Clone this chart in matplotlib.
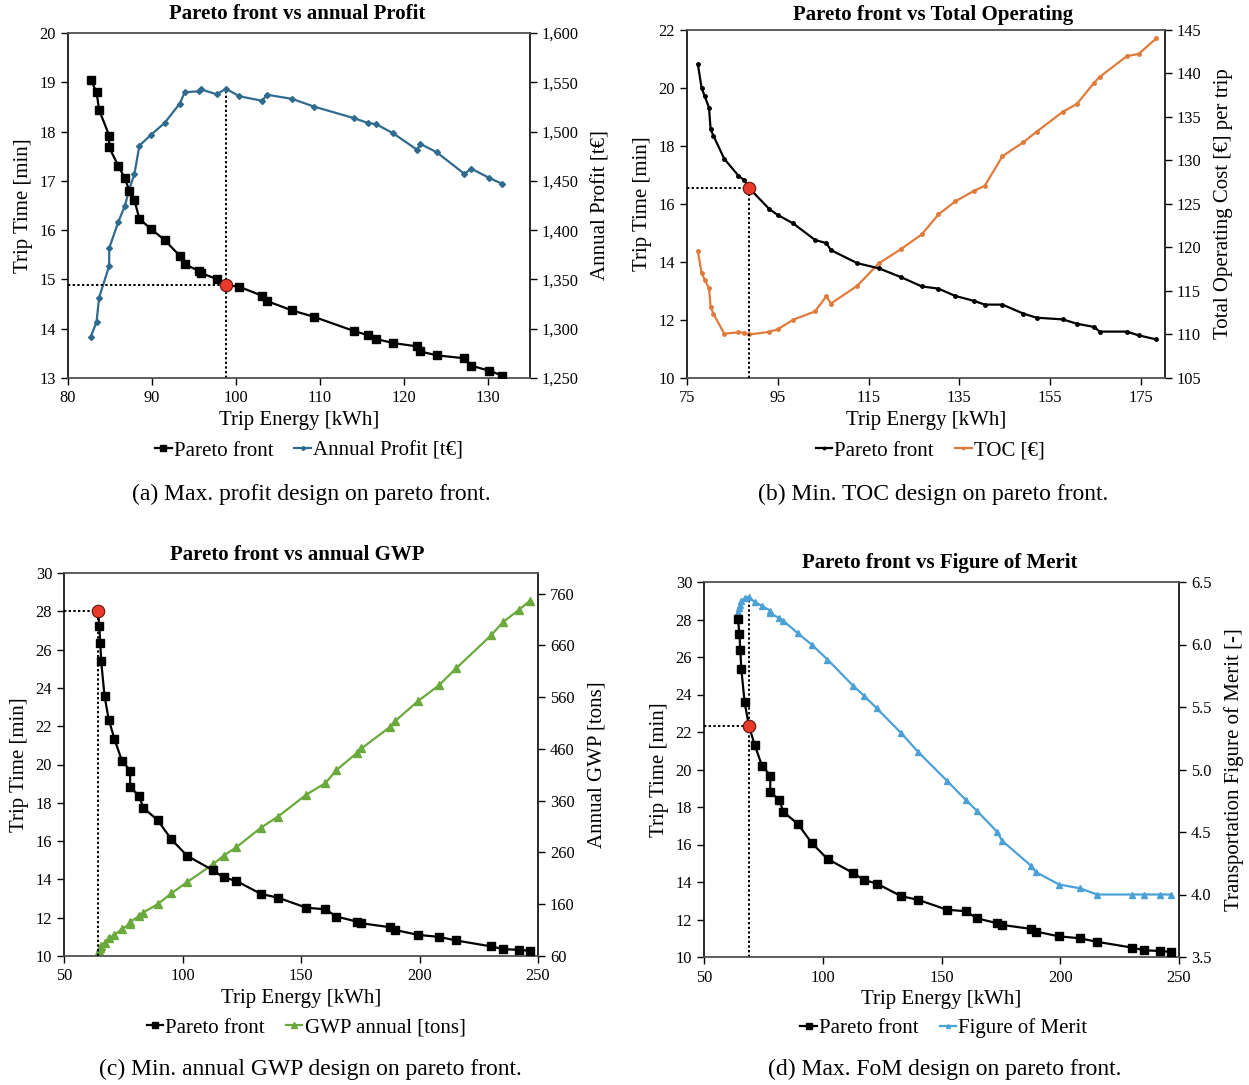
import matplotlib
matplotlib.use("Agg")
import matplotlib.pyplot as plt
from matplotlib.ticker import FuncFormatter, MultipleLocator

plt.rcParams['font.family'] = ['Liberation Serif', 'DejaVu Serif']
plt.rcParams['mathtext.fontset'] = 'stix'

# ---------------- (a) Pareto front vs annual profit ----------------
energy_a = [82.7, 83.4, 83.7, 84.9, 84.9, 86.0, 86.75, 87.3, 87.9, 88.5, 89.9, 91.5,
            93.3, 93.9, 95.6, 95.8, 97.7, 98.8, 100.4, 103.1, 103.7, 106.7, 109.3,
            114.1, 115.7, 116.7, 118.7, 121.6, 121.9, 123.9, 127.2, 128.0, 130.1, 131.7]
time_a = [19.05, 18.80, 18.44, 17.92, 17.68, 17.30, 17.06, 16.80, 16.61, 16.23, 16.02,
          15.80, 15.48, 15.31, 15.17, 15.13, 15.01, 14.89, 14.85, 14.67, 14.56, 14.37,
          14.24, 13.95, 13.87, 13.79, 13.71, 13.64, 13.54, 13.46, 13.40, 13.25, 13.15, 13.05]
profit_a = [1291.4, 1306.9, 1331.5, 1363.7, 1381.6, 1408.6, 1424.2, 1441.5, 1456.7,
            1485.7, 1496.9, 1508.7, 1528.3, 1539.9, 1540.9, 1542.9, 1537.8, 1543.5,
            1535.8, 1531.3, 1537.4, 1533.1, 1525.3, 1513.5, 1508.7, 1507.4, 1498.3,
            1481.3, 1487.7, 1479.0, 1457.0, 1462.4, 1453.2, 1446.9]

# ---------------- (b) Pareto front vs total operating cost ----------------
energy_b = [77.4, 78.2, 78.9, 79.85, 80.2, 80.8, 83.2, 86.3, 87.6, 88.7, 93.1, 95.0,
            98.4, 103.2, 105.7, 106.7, 112.5, 117.3, 122.1, 126.7, 130.4, 134.1, 138.2,
            140.6, 144.5, 149.1, 152.0, 157.8, 160.9, 164.7, 165.9, 171.9, 174.5, 178.4]
time_b = [20.82, 20.01, 19.72, 19.32, 18.58, 18.36, 17.56, 16.98, 16.82, 16.55, 15.83,
          15.62, 15.33, 14.76, 14.65, 14.41, 13.96, 13.78, 13.48, 13.16, 13.08, 12.83,
          12.66, 12.53, 12.53, 12.22, 12.08, 12.02, 11.87, 11.76, 11.60, 11.60, 11.47, 11.33]
toc_b = [119.55, 117.1, 116.3, 115.3, 113.2, 112.4, 110.1, 110.25, 110.2, 110.0, 110.3,
         110.6, 111.7, 112.65, 114.4, 113.55, 115.6, 118.2, 119.8, 121.5, 123.8, 125.3,
         126.5, 127.1, 130.5, 132.1, 133.3, 135.6, 136.5, 138.95, 139.6, 142.0, 142.25, 144.05]

# ---------------- (c)/(d) Pareto front vs GWP and figure of merit ----------------
energy_cd = [64.3, 64.9, 65.3, 65.7, 67.1, 68.9, 71.3, 74.4, 77.9, 77.9, 81.7, 83.4,
             89.5, 95.3, 102.0, 112.8, 117.4, 122.7, 133.1, 140.2, 152.3, 160.3, 164.9,
             173.5, 175.5, 187.7, 189.7, 199.5, 208.2, 215.5, 230.3, 235.2, 242.0, 246.5]
time_cd = [28.04, 27.24, 26.35, 25.38, 23.58, 22.33, 21.33, 20.20, 19.68, 18.81, 18.37,
           17.74, 17.10, 16.09, 15.23, 14.48, 14.10, 13.92, 13.24, 13.05, 12.52, 12.44,
           12.06, 11.80, 11.71, 11.50, 11.36, 11.10, 11.00, 10.81, 10.50, 10.36, 10.32, 10.27]
gwp_c = [64, 70, 75, 80, 86, 94, 101, 112, 122, 126, 137, 144, 160, 181, 203, 237, 254,
         270, 308, 329, 372, 394, 419, 452, 461, 503, 514, 553, 583, 616, 680, 705, 729, 746]
fom_d = [6.26, 6.29, 6.32, 6.35, 6.37, 6.38, 6.34, 6.31, 6.27, 6.25, 6.21, 6.19, 6.09,
         6.00, 5.88, 5.67, 5.59, 5.49, 5.29, 5.14, 4.91, 4.755, 4.67, 4.50, 4.43, 4.23,
         4.18, 4.08, 4.05, 4.00, 4.00, 4.00, 4.00, 4.00]

BLACK = '#000000'
SPINE_GRAY = '#595959'
C_PROFIT = '#2F6A8F'
C_TOC = '#E07B3C'
C_GWP = '#6AAA3D'
C_FOM = '#4BA0D6'
C_RED = '#E8392A'

TICK_FS = 11.8
LABEL_FS = 15
TITLE_FS = 15
LEG_FS = 15
CAP_FS = 17

W, H = 1249, 1085
fig = plt.figure(figsize=(W / 100, H / 100), dpi=100)


def px_axes(l, t, r, b):
    return fig.add_axes([l / W, 1 - b / H, (r - l) / W, (b - t) / H])


def style(ax, ax2):
    for a in (ax, ax2):
        a.tick_params(direction='out', length=5, width=1, labelsize=TICK_FS, colors=BLACK)
        for s in a.spines.values():
            s.set_linewidth(1.1)
        a.spines['top'].set_color(SPINE_GRAY)
        a.spines['bottom'].set_color(SPINE_GRAY)
        a.spines['left'].set_color('#222222')
        a.spines['right'].set_color('#222222')
    ax.tick_params(axis='x', pad=4)
    ax.set_xlabel('Trip Energy [kWh]', fontsize=LABEL_FS, labelpad=3)
    ax.set_ylabel('Trip Time [min]', fontsize=LABEL_FS, labelpad=5)


def marker_dot(ax, x, y):
    ax.plot([x], [y], 'o', ms=9, mfc=C_RED, mec='#5a1a10', mew=0.8, zorder=10)


def legend(ax, handles, labels, cx, cy):
    fig.legend(handles, labels, loc='center', bbox_to_anchor=(cx / W, 1 - cy / H),
               ncol=2, frameon=False, fontsize=LEG_FS, handlelength=0.8,
               handletextpad=0.1, columnspacing=1.0, borderaxespad=0, markerscale=0.7)


def caption(text, cx, cy):
    fig.text(cx / W, 1 - cy / H, text, ha='center', va='center', fontsize=CAP_FS)


def title(text, cx, cy):
    fig.text(cx / W, 1 - cy / H, text, ha='center', va='center',
             fontsize=TITLE_FS, fontweight='bold')


dot_style = dict(color=BLACK, linestyle=(0, (1.2, 1.2)), linewidth=1.4, zorder=3)

# ---------------- panel (a) ----------------
ax = px_axes(68, 33, 530, 378)
ax2 = ax.twinx()
la, = ax.plot(energy_a, time_a, '-s', color=BLACK, lw=1.6, ms=5.5, zorder=5)
lb, = ax2.plot(energy_a, profit_a, '-D', color=C_PROFIT, lw=1.6, ms=3, zorder=4)
ax.set_xlim(80, 135)
ax.set_ylim(13, 20)
ax2.set_ylim(1250, 1600)
ax.yaxis.set_major_locator(MultipleLocator(1))
ax2.yaxis.set_major_locator(MultipleLocator(50))
ax2.yaxis.set_major_formatter(FuncFormatter(lambda v, p: f'{v:,.0f}'))
ax.set_xticks([80, 90, 100, 110, 120, 130])
ax2.set_ylabel('Annual Profit [t€]', fontsize=LABEL_FS, labelpad=9)
style(ax, ax2)
ia = profit_a.index(max(profit_a))
ax.hlines(time_a[ia], 80, energy_a[ia], **dot_style)
ax2.vlines(energy_a[ia], 1250, profit_a[ia], **dot_style)
marker_dot(ax, energy_a[ia], time_a[ia])
ax.set_zorder(ax2.get_zorder() + 1)
ax.patch.set_visible(False)
title('Pareto front vs annual Profit', 297, 14)
legend(ax, [la, lb], ['Pareto front', 'Annual Profit [t€]'], 309, 451)
caption('(a) Max. profit design on pareto front.', 311, 494)

# ---------------- panel (b) ----------------
ax = px_axes(687, 30, 1165, 378)
ax2 = ax.twinx()
la, = ax.plot(energy_b, time_b, '-o', color=BLACK, lw=1.6, ms=2.5, zorder=5)
lb, = ax2.plot(energy_b, toc_b, '-o', color=C_TOC, lw=1.6, ms=2.5, zorder=4)
ax.set_xlim(75, 180.3)
ax.set_ylim(10, 22)
ax2.set_ylim(105, 145)
ax.set_xticks([75, 95, 115, 135, 155, 175])
ax.yaxis.set_major_locator(MultipleLocator(2))
ax2.yaxis.set_major_locator(MultipleLocator(5))
ax2.set_ylabel('Total Operating Cost [€] per trip', fontsize=LABEL_FS, labelpad=9)
style(ax, ax2)
ib = toc_b.index(min(toc_b))
ax.hlines(time_b[ib], 75, energy_b[ib], **dot_style)
ax.vlines(energy_b[ib], 10, time_b[ib], **dot_style)
marker_dot(ax, energy_b[ib], time_b[ib])
ax.set_zorder(ax2.get_zorder() + 1)
ax.patch.set_visible(False)
title('Pareto front vs Total Operating', 933, 15)
legend(ax, [la, lb], ['Pareto front', 'TOC [€]'], 930, 451)
caption('(b) Min. TOC design on pareto front.', 933, 494)

# ---------------- panel (c) ----------------
ax = px_axes(64, 573, 538, 956)
ax2 = ax.twinx()
la, = ax.plot(energy_cd, time_cd, '-s', color=BLACK, lw=1.6, ms=5.5, zorder=5)
lb, = ax2.plot(energy_cd, gwp_c, '-^', color=C_GWP, lw=1.6, ms=5.5, zorder=4)
ax.set_xlim(50, 250)
ax.set_ylim(10, 30)
ax2.set_ylim(60, 800)
ax.xaxis.set_major_locator(MultipleLocator(50))
ax.yaxis.set_major_locator(MultipleLocator(2))
ax2.set_yticks([60, 160, 260, 360, 460, 560, 660, 760])
ax2.set_ylabel('Annual GWP [tons]', fontsize=LABEL_FS, labelpad=9)
style(ax, ax2)
ic = gwp_c.index(min(gwp_c))
ax.hlines(time_cd[ic], 50, energy_cd[ic], **dot_style)
ax.vlines(energy_cd[ic], 10, time_cd[ic], **dot_style)
marker_dot(ax, energy_cd[ic], time_cd[ic])
ax.set_zorder(ax2.get_zorder() + 1)
ax.patch.set_visible(False)
title('Pareto front vs annual GWP', 297, 555)
legend(ax, [la, lb], ['Pareto front', 'GWP annual [tons]'], 306, 1028)
caption('(c) Min. annual GWP design on pareto front.', 310, 1069)

# ---------------- panel (d) ----------------
ax = px_axes(704, 582, 1179, 957)
ax2 = ax.twinx()
la, = ax.plot(energy_cd, time_cd, '-s', color=BLACK, lw=1.6, ms=5.5, zorder=5)
lb, = ax2.plot(energy_cd, fom_d, '-^', color=C_FOM, lw=1.6, ms=4, zorder=4)
ax.set_xlim(50, 250)
ax.set_ylim(10, 30)
ax2.set_ylim(3.5, 6.5)
ax.xaxis.set_major_locator(MultipleLocator(50))
ax.yaxis.set_major_locator(MultipleLocator(2))
ax2.yaxis.set_major_locator(MultipleLocator(0.5))
ax2.yaxis.set_major_formatter(FuncFormatter(lambda v, p: f'{v:.1f}'))
ax2.set_ylabel('Transportation Figure of Merit [-]', fontsize=LABEL_FS, labelpad=9)
style(ax, ax2)
idd = fom_d.index(max(fom_d))
ax.hlines(time_cd[idd], 50, energy_cd[idd], **dot_style)
ax2.vlines(energy_cd[idd], 3.5, fom_d[idd], **dot_style)
marker_dot(ax, energy_cd[idd], time_cd[idd])
ax.set_zorder(ax2.get_zorder() + 1)
ax.patch.set_visible(False)
title('Pareto front vs Figure of Merit', 940, 563)
legend(ax, [la, lb], ['Pareto front', 'Figure of Merit'], 944, 1028)
caption('(d) Max. FoM design on pareto front.', 945, 1069)

fig.savefig('out.png', dpi=100)
